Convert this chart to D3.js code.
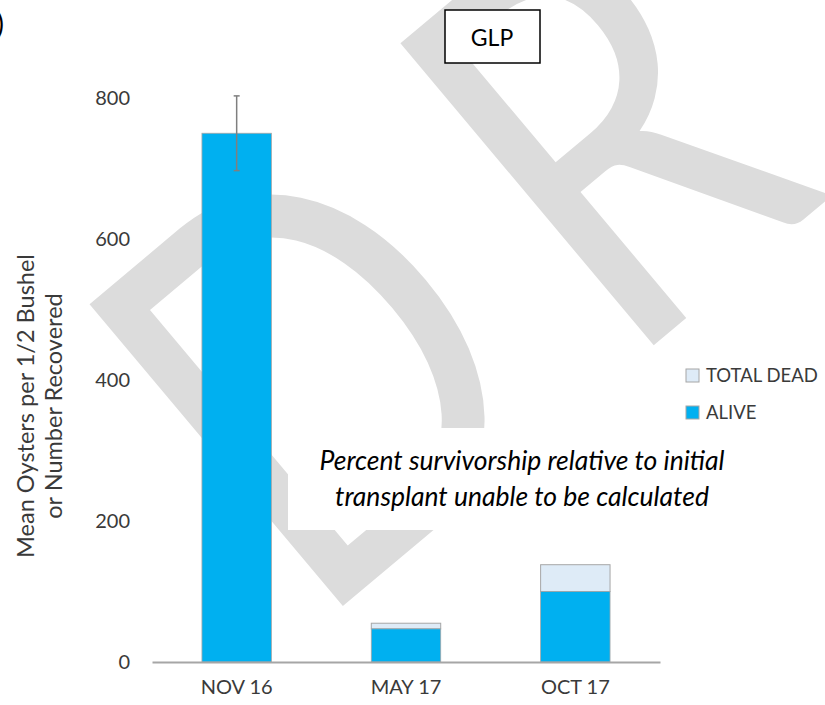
<!DOCTYPE html>
<html>
<head>
    <style>
        body { margin: 0; background: #fff; }
        svg text { font-family: Lato, "Open Sans", sans-serif; }
        .tick-label { font-size: 20px; fill: #3a3a3a; }
        .note { font-size: 26.5px; font-style: italic; fill: #000; }
    </style>
    <script src="https://d3js.org/d3.v7.min.js"></script>
</head>
<body>
    <svg width="825" height="705"></svg>
    <script>
        // chart data
        var categories = ["NOV 16", "MAY 17", "OCT 17"];
        var alive = [750, 47, 100];
        var totalDead = [0, 8, 38];
        var aliveError = [53, null, null];
        var yTicks = [0, 200, 400, 600, 800];
        var seriesNames = ["TOTAL DEAD", "ALIVE"];

        var svg = d3.select("svg");

        var blue = "#00b0f0",
            lightBlue = "#deebf7",
            edge = "#a6a6a6";

        // watermark behind everything
        svg.append("text")
           .attr("transform", "translate(312,632) rotate(-40) scale(0.8,1)")
           .attr("font-size", 550)
           .attr("letter-spacing", 89)
           .attr("fill", "#dcdcdc")
           .text("DRAFT");

        var x = d3.scaleBand()
                  .domain(categories)
                  .range([152, 660])
                  .paddingInner(0.59)
                  .paddingOuter(0.295);

        var y = d3.scaleLinear()
                  .domain([0, 800])
                  .range([662, 98]);

        var rows = categories.map(function(c, i) {
            return { cat: c, alive: alive[i], dead: totalDead[i], err: aliveError[i] };
        });

        // stacked bars
        var bars = svg.append("g").selectAll(".bar")
                      .data(rows)
                      .enter().append("g");

        bars.filter(function(d) { return d.dead > 0; })
            .append("rect")
            .attr("x", function(d) { return x(d.cat); })
            .attr("width", x.bandwidth())
            .attr("y", function(d) { return y(d.alive + d.dead); })
            .attr("height", function(d) { return y(d.alive) - y(d.alive + d.dead); })
            .attr("fill", lightBlue)
            .attr("stroke", edge)
            .attr("stroke-width", 1);

        bars.append("rect")
            .attr("x", function(d) { return x(d.cat); })
            .attr("width", x.bandwidth())
            .attr("y", function(d) { return y(d.alive); })
            .attr("height", function(d) { return y(0) - y(d.alive); })
            .attr("fill", blue)
            .attr("stroke", edge)
            .attr("stroke-width", 0.8);

        // error bars
        var eb = svg.append("g").selectAll(".err")
                    .data(rows.filter(function(d) { return d.err; }))
                    .enter().append("g")
                    .attr("stroke", "#7f7f7f")
                    .attr("stroke-width", 1.5);
        eb.append("line")
          .attr("x1", function(d) { return x(d.cat) + x.bandwidth() / 2; })
          .attr("x2", function(d) { return x(d.cat) + x.bandwidth() / 2; })
          .attr("y1", function(d) { return y(d.alive + d.err); })
          .attr("y2", function(d) { return y(d.alive - d.err); });
        [1, -1].forEach(function(s) {
            eb.append("line")
              .attr("x1", function(d) { return x(d.cat) + x.bandwidth() / 2 - 3; })
              .attr("x2", function(d) { return x(d.cat) + x.bandwidth() / 2 + 3; })
              .attr("y1", function(d) { return y(d.alive + s * d.err); })
              .attr("y2", function(d) { return y(d.alive + s * d.err); });
        });

        // x axis
        var xAxis = svg.append("g")
                       .attr("transform", "translate(0," + y(0) + ")")
                       .call(d3.axisBottom(x).tickSize(0).tickPadding(18));
        xAxis.select(".domain").attr("stroke", edge).attr("stroke-width", 2);
        xAxis.selectAll("text").attr("class", "tick-label").attr("font-size", null).attr("font-family", null);

        // y axis (labels only)
        var yAxis = svg.append("g")
                       .attr("transform", "translate(140,0)")
                       .call(d3.axisLeft(y).tickValues(yTicks).tickSize(0).tickPadding(10));
        yAxis.select(".domain").remove();
        yAxis.selectAll("text").attr("class", "tick-label").attr("font-size", null).attr("font-family", null);

        // y title
        var yt = svg.append("text")
                    .attr("transform", "translate(0,406) rotate(-90)")
                    .attr("text-anchor", "middle")
                    .attr("font-size", 23.5)
                    .attr("fill", "#3a3a3a");
        yt.append("tspan").attr("x", 0).attr("y", 34).text("Mean Oysters per 1/2 Bushel");
        yt.append("tspan").attr("x", 0).attr("y", 62).text("or Number Recovered");

        // legend
        var leg = svg.append("g").selectAll(".leg")
                     .data(seriesNames)
                     .enter().append("g")
                     .attr("transform", function(d, i) { return "translate(686," + (369 + i * 37) + ")"; });
        leg.append("rect")
           .attr("width", 13).attr("height", 13)
           .attr("fill", function(d, i) { return i === 0 ? lightBlue : blue; })
           .attr("stroke", edge);
        leg.append("text")
           .attr("x", 20).attr("y", 13)
           .attr("font-size", 18.5)
           .attr("fill", "#3a3a3a")
           .text(function(d) { return d; });

        // annotation box
        svg.append("rect")
           .attr("x", 288).attr("y", 428).attr("width", 470).attr("height", 102)
           .attr("fill", "#fff");
        var note = svg.append("text")
                      .attr("class", "note")
                      .attr("text-anchor", "middle");
        note.append("tspan").attr("x", 522).attr("y", 470).text("Percent survivorship relative to initial");
        note.append("tspan").attr("x", 522).attr("y", 506).text("transplant unable to be calculated");

        // GLP title box
        svg.append("rect")
           .attr("x", 445).attr("y", 10).attr("width", 95).attr("height", 53)
           .attr("fill", "#fff").attr("stroke", "#000").attr("stroke-width", 1.5);
        svg.append("text")
           .attr("x", 492).attr("y", 46)
           .attr("text-anchor", "middle")
           .attr("font-size", 23)
           .text("GLP");

        // cut-off panel letter at top-left
        svg.append("text")
           .attr("x", 4).attr("y", 34)
           .attr("text-anchor", "end")
           .attr("font-size", 28)
           .text(")");
    </script>
</body>
</html>
